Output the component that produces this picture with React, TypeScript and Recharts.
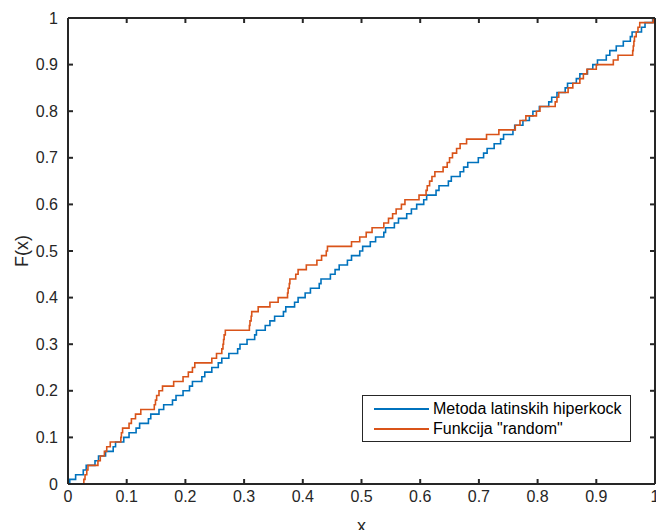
import { LineChart, Line, XAxis, YAxis, Legend } from 'recharts'

// sorted samples (Latin hypercube, n = 100)
const lhsSamples = [
  0.003, 0.013, 0.026, 0.031, 0.046, 0.052, 0.064, 0.077, 0.081, 0.095,
  0.104, 0.116, 0.122, 0.137, 0.141, 0.155, 0.163, 0.178, 0.184, 0.196,
  0.207, 0.212, 0.228, 0.233, 0.245, 0.256, 0.262, 0.274, 0.289, 0.293,
  0.305, 0.318, 0.321, 0.336, 0.344, 0.352, 0.367, 0.371, 0.386, 0.392,
  0.404, 0.413, 0.428, 0.431, 0.447, 0.455, 0.462, 0.476, 0.483, 0.497,
  0.502, 0.515, 0.524, 0.538, 0.541, 0.556, 0.563, 0.577, 0.585, 0.594,
  0.606, 0.611, 0.627, 0.632, 0.648, 0.653, 0.668, 0.674, 0.681, 0.699,
  0.708, 0.714, 0.726, 0.737, 0.742, 0.758, 0.761, 0.775, 0.786, 0.792,
  0.803, 0.819, 0.824, 0.833, 0.847, 0.851, 0.866, 0.872, 0.885, 0.894,
  0.902, 0.917, 0.923, 0.934, 0.946, 0.958, 0.961, 0.977, 0.983, 0.996,
]

// sorted samples (rand, n = 100)
const randSamples = [
  0.027, 0.029, 0.032, 0.034, 0.051, 0.055, 0.062, 0.066, 0.072, 0.090,
  0.091, 0.093, 0.104, 0.108, 0.115, 0.124, 0.147, 0.149, 0.151, 0.155,
  0.161, 0.180, 0.196, 0.205, 0.212, 0.216, 0.245, 0.253, 0.262, 0.264,
  0.265, 0.266, 0.268, 0.309, 0.310, 0.312, 0.313, 0.324, 0.344, 0.358,
  0.374, 0.375, 0.377, 0.378, 0.388, 0.392, 0.406, 0.424, 0.432, 0.440,
  0.442, 0.483, 0.497, 0.508, 0.518, 0.538, 0.546, 0.553, 0.559, 0.568,
  0.574, 0.598, 0.610, 0.612, 0.616, 0.620, 0.625, 0.639, 0.646, 0.650,
  0.655, 0.662, 0.668, 0.679, 0.713, 0.734, 0.762, 0.770, 0.780, 0.798,
  0.804, 0.830, 0.833, 0.836, 0.852, 0.860, 0.872, 0.878, 0.884, 0.900,
  0.929, 0.937, 0.962, 0.963, 0.964, 0.965, 0.968, 0.971, 0.974, 0.997,
]

const xTicks = [0, 0.1, 0.2, 0.3, 0.4, 0.5, 0.6, 0.7, 0.8, 0.9, 1]
const yTicks = [0, 0.1, 0.2, 0.3, 0.4, 0.5, 0.6, 0.7, 0.8, 0.9, 1]

const seriesNames = ['Metoda latinskih hiperkock', 'Funkcija "random"']
const seriesColors = ['#0072BD', '#D95319']

// empirical cdf as stairs: (x1, 0), (x1, 1/n), (x2, 2/n), ...
function ecdf(samples: number[]) {
  const n = samples.length
  return [{ x: samples[0], y: 0 }, ...samples.map((v, i) => ({ x: v, y: (i + 1) / n }))]
}

const lhsCdf = ecdf(lhsSamples)
const randCdf = ecdf(randSamples)

const axisColor = '#262626'
const font = '"Liberation Sans", Arial, sans-serif'
const tickStyle = { fill: axisColor, fontSize: 16, fontFamily: font }
const noLabel = () => <g />
const frame = { stroke: axisColor, strokeWidth: 2 }

function LegendBox() {
  return (
    <div
      style={{
        position: 'relative',
        width: 269,
        height: 47,
        boxSizing: 'border-box',
        border: `1px solid ${axisColor}`,
        background: '#fff',
        fontFamily: font,
        fontSize: 16,
        color: '#000',
      }}
    >
      {seriesNames.map((name, i) => (
        <div key={name} style={{ position: 'absolute', left: 0, top: 3 + i * 20, height: 20, display: 'flex', alignItems: 'center' }}>
          <svg width={70} height={20}>
            <line x1={11} x2={66} y1={10} y2={10} stroke={seriesColors[i]} strokeWidth={2} />
          </svg>
          <span style={{ whiteSpace: 'nowrap', lineHeight: '20px' }}>{name}</span>
        </div>
      ))}
    </div>
  )
}

export default function App() {
  return (
    <div style={{ position: 'absolute', left: 0, top: 0, width: 656, height: 530, background: '#fff' }}>
      <LineChart width={656} height={530} margin={{ top: 18, right: 1, bottom: 0, left: 0 }}>
        {/* inward ticks, bottom and left */}
        <XAxis xAxisId="xin" dataKey="x" type="number" domain={[0, 1]} ticks={xTicks} interval={0} mirror tick={noLabel} tickSize={5} height={5} axisLine={false} tickLine={frame} allowDataOverflow />
        <YAxis yAxisId="yin" type="number" domain={[0, 1]} ticks={yTicks} interval={0} mirror tick={noLabel} tickSize={5} width={5} axisLine={false} tickLine={frame} allowDataOverflow />
        {/* box: top and right with inward ticks */}
        <XAxis xAxisId="top" dataKey="x" orientation="top" type="number" domain={[0, 1]} ticks={xTicks} interval={0} mirror tick={noLabel} tickSize={5} height={5} axisLine={frame} tickLine={frame} allowDataOverflow />
        <YAxis yAxisId="right" orientation="right" type="number" domain={[0, 1]} ticks={yTicks} interval={0} mirror tick={noLabel} tickSize={5} width={5} axisLine={frame} tickLine={frame} allowDataOverflow />

        <XAxis
          xAxisId="x"
          dataKey="x"
          type="number"
          domain={[0, 1]}
          ticks={xTicks}
          interval={0}
          allowDataOverflow
          height={46}
          tickLine={false}
          tickSize={0}
          tickMargin={7}
          axisLine={frame}
          tick={tickStyle}
          label={{ value: 'x', position: 'insideBottom', offset: -2, fill: axisColor, fontSize: 18, fontFamily: font }}
        />
        <YAxis
          yAxisId="y"
          type="number"
          domain={[0, 1]}
          ticks={yTicks}
          interval={0}
          allowDataOverflow
          width={68}
          tickLine={false}
          tickSize={0}
          tickMargin={10}
          axisLine={frame}
          tick={tickStyle}
          label={{ value: 'F(x)', angle: -90, position: 'insideLeft', offset: 22, fill: axisColor, fontSize: 18, fontFamily: font, style: { textAnchor: 'middle' } }}
        />

        {/* invisible series so the box axes get drawn */}
        <Line xAxisId="xin" yAxisId="yin" data={lhsCdf} dataKey="y" stroke="none" dot={false} activeDot={false} legendType="none" isAnimationActive={false} />
        <Line xAxisId="top" yAxisId="right" data={lhsCdf} dataKey="y" stroke="none" dot={false} activeDot={false} legendType="none" isAnimationActive={false} />

        <Line
          xAxisId="x"
          yAxisId="y"
          data={lhsCdf}
          dataKey="y"
          name={seriesNames[0]}
          type="stepAfter"
          stroke={seriesColors[0]}
          strokeWidth={1.6}
          dot={false}
          activeDot={false}
          isAnimationActive={false}
        />
        <Line
          xAxisId="x"
          yAxisId="y"
          data={randCdf}
          dataKey="y"
          name={seriesNames[1]}
          type="stepAfter"
          stroke={seriesColors[1]}
          strokeWidth={1.6}
          dot={false}
          activeDot={false}
          isAnimationActive={false}
        />

        <Legend
          layout="horizontal"
          verticalAlign="middle"
          align="center"
          content={() => <LegendBox />}
          wrapperStyle={{ left: 362, top: 395, width: 269, height: 47, bottom: 'auto', right: 'auto' }}
        />
      </LineChart>
    </div>
  )
}
